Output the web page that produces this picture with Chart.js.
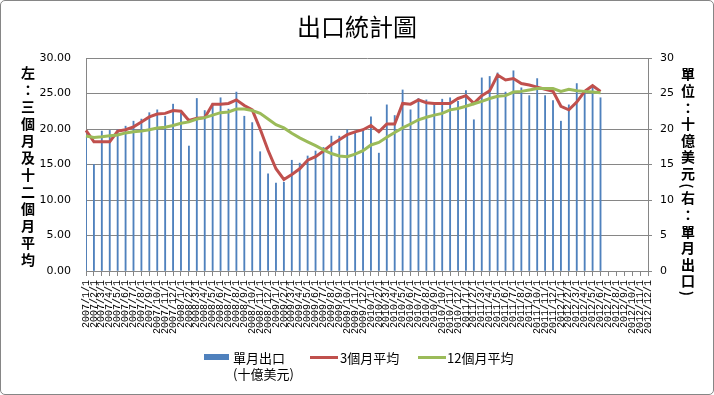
<!DOCTYPE html>
<html lang="zh-Hant">
<head>
<meta charset="utf-8">
<script src="https://cdn.jsdelivr.net/npm/chart.js@4/dist/chart.umd.min.js"></script>
<style>
  html, body { margin: 0; padding: 0; background: #fff; }
  #wrap { position: relative; width: 714px; height: 395px; overflow: hidden; font-family: "Noto Sans CJK TC", sans-serif; }
  #c { position: absolute; left: 0; top: 0; }
  #frame { position: absolute; left: 0; top: 0; width: 714px; height: 395px; box-sizing: border-box; border: 1px solid #868686; border-radius: 5px; pointer-events: none; }
  .vlab { position: absolute; writing-mode: vertical-rl; text-orientation: mixed; font-size: 14px; font-weight: bold; letter-spacing: 3px; color: #000; line-height: 14px; }
  .leg { position: absolute; font-size: 13px; line-height: 15.5px; color: #000; white-space: nowrap; }
  .sw { position: absolute; }
</style>
</head>
<body>
<div id="wrap">
  <canvas id="c" width="714" height="395"></canvas>
  <div class="vlab" style="left:21px; top:66px;">左：三個月及十二個月平均</div>
  <div class="vlab" style="left:681px; top:67px; letter-spacing:2.6px;">單位：十億美元(右：單月出口)</div>
  <div class="sw" style="left:204px; top:354px; width:25px; height:6px; background:#4F81BD;"></div>
  <div class="leg" style="left:233px; top:350px;">單月出口<br>(十億美元)</div>
  <div class="sw" style="left:310px; top:356px; width:28px; height:3px; background:#C0504D;"></div>
  <div class="leg" style="left:340px; top:350px;">3個月平均</div>
  <div class="sw" style="left:418px; top:356px; width:28px; height:3px; background:#9BBB59;"></div>
  <div class="leg" style="left:447px; top:350px;">12個月平均</div>
  <div id="frame"></div>
</div>
<script>
const categories = [
  "2007/1/1","2007/2/1","2007/3/1","2007/4/1","2007/5/1","2007/6/1","2007/7/1","2007/8/1","2007/9/1","2007/10/1","2007/11/1","2007/12/1",
  "2008/1/1","2008/2/1","2008/3/1","2008/4/1","2008/5/1","2008/6/1","2008/7/1","2008/8/1","2008/9/1","2008/10/1","2008/11/1","2008/12/1",
  "2009/1/1","2009/2/1","2009/3/1","2009/4/1","2009/5/1","2009/6/1","2009/7/1","2009/8/1","2009/9/1","2009/10/1","2009/11/1","2009/12/1",
  "2010/1/1","2010/2/1","2010/3/1","2010/4/1","2010/5/1","2010/6/1","2010/7/1","2010/8/1","2010/9/1","2010/10/1","2010/11/1","2010/12/1",
  "2011/1/1","2011/2/1","2011/3/1","2011/4/1","2011/5/1","2011/6/1","2011/7/1","2011/8/1","2011/9/1","2011/10/1","2011/11/1","2011/12/1",
  "2012/1/1","2012/2/1","2012/3/1","2012/4/1","2012/5/1","2012/6/1","2012/7/1","2012/8/1","2012/9/1","2012/10/1","2012/11/1","2012/12/1"
];

// 單月出口 (十億美元) — right axis
const monthlyExports = [
  19.4, 15.0, 19.7, 19.8, 19.9, 20.4, 21.1, 21.4, 22.3, 22.7, 21.8, 23.5,
  22.2, 17.6, 24.3, 22.6, 23.6, 24.4, 22.8, 25.2, 21.8, 20.9, 16.8, 13.7,
  12.4, 12.5, 15.6, 15.2, 16.2, 16.9, 17.4, 19.0, 19.0, 19.9, 19.7, 19.9,
  21.7, 16.6, 23.4, 21.9, 25.5, 22.7, 24.3, 24.1, 23.7, 24.2, 24.4, 23.9,
  25.4, 21.3, 27.2, 27.4, 27.9, 25.2, 28.2, 25.8, 24.7, 27.1, 24.7, 24.0,
  21.1, 23.4, 26.4, 25.2, 26.1, 24.4
];

// 3個月平均 — left axis
const avg3 = [
  19.8, 18.2, 18.2, 18.2, 19.7, 19.9, 20.3, 21.0, 21.7, 22.1, 22.2, 22.6,
  22.5, 21.2, 21.5, 21.6, 23.5, 23.5, 23.6, 24.1, 23.3, 22.7, 20.0, 17.0,
  14.4, 12.9, 13.6, 14.4, 15.6, 16.1, 16.9, 17.8, 18.5, 19.2, 19.6, 19.9,
  20.5, 19.6, 20.7, 20.7, 23.6, 23.5, 24.1, 23.7, 23.6, 23.6, 23.6, 24.3,
  24.7, 23.6, 24.7, 25.4, 27.6, 26.9, 27.1, 26.4, 26.2, 25.9, 25.6, 25.3,
  23.2, 22.7, 23.8, 25.3, 26.1, 25.3
];

// 12個月平均 — left axis
const avg12 = [
  19.0, 18.8, 18.9, 19.05, 19.15, 19.45, 19.6, 19.7, 19.9, 20.15, 20.25, 20.5,
  20.8, 21.0, 21.4, 21.6, 21.95, 22.3, 22.4, 22.8, 22.8, 22.6, 22.2, 21.4,
  20.6, 20.15, 19.4, 18.75, 18.2, 17.65, 17.05, 16.55, 16.2, 16.1, 16.45, 16.95,
  17.75, 18.1, 18.85, 19.5, 20.15, 20.7, 21.3, 21.65, 21.95, 22.2, 22.7, 22.9,
  23.2, 23.55, 23.9, 24.3, 24.6, 24.7, 25.2, 25.3, 25.5, 25.7, 25.7, 25.7,
  25.3, 25.6, 25.4, 25.3, 25.2, 25.1
];

const leftTicks = [0, 5, 10, 15, 20, 25, 30];
const rightTicks = [0, 5, 10, 15, 20, 25, 30];

const GRAY = '#868686';

new Chart(document.getElementById('c'), {
  type: 'bar',
  data: {
    labels: categories,
    datasets: [
      {
        type: 'line', label: '12個月平均', data: avg12, yAxisID: 'y',
        borderColor: '#9BBB59', backgroundColor: '#9BBB59', borderWidth: 3,
        pointRadius: 0, tension: 0, order: 1
      },
      {
        type: 'line', label: '3個月平均', data: avg3, yAxisID: 'y',
        borderColor: '#C0504D', backgroundColor: '#C0504D', borderWidth: 3,
        pointRadius: 0, tension: 0, order: 2
      },
      {
        type: 'bar', label: '單月出口(十億美元)', data: monthlyExports, yAxisID: 'y1',
        backgroundColor: '#4F81BD', borderWidth: 0, barThickness: 1.2, order: 3
      }
    ]
  },
  options: {
    responsive: false,
    animation: false,
    devicePixelRatio: 1,
    layout: { padding: { left: 0, right: 0, top: 0, bottom: 0 } },
    plugins: {
      legend: { display: false },
      tooltip: { enabled: false },
      title: {
        display: true,
        text: '出口統計圖',
        color: '#000',
        font: { family: '"Noto Sans CJK TC", sans-serif', size: 24, weight: 'normal', lineHeight: 1.2 },
        padding: { top: 12.6, bottom: 16.6 }
      }
    },
    scales: {
      x: {
        offset: false,
        grid: { display: true, offset: false, drawOnChartArea: false, drawTicks: true, tickLength: 5, tickColor: GRAY, color: GRAY },
        border: { display: true, color: GRAY, width: 1 },
        ticks: {
          autoSkip: false, maxRotation: 90, minRotation: 90, padding: 4, color: '#000',
          font: { family: '"Liberation Mono", monospace', size: 10 }
        },
        afterFit(scale) { scale.height = 124; }
      },
      y: {
        position: 'left', min: 0, max: 30,
        afterBuildTicks(scale) { scale.ticks = leftTicks.map(v => ({ value: v })); },
        grid: { color: GRAY, drawTicks: false, lineWidth: 1 },
        border: { display: true, color: GRAY, width: 1 },
        ticks: {
          padding: 15, color: '#000',
          font: { family: '"DejaVu Sans", sans-serif', size: 11 },
          callback: v => Number(v).toFixed(2)
        },
        afterFit(scale) { scale.width = 86; }
      },
      y1: {
        position: 'right', min: 0, max: 30,
        afterBuildTicks(scale) { scale.ticks = rightTicks.map(v => ({ value: v })); },
        grid: { drawOnChartArea: false, drawTicks: true, tickLength: 4, tickColor: GRAY, color: GRAY },
        border: { display: true, color: GRAY, width: 1 },
        ticks: {
          padding: 8, color: '#000',
          font: { family: '"DejaVu Sans", sans-serif', size: 11 },
          callback: v => String(v)
        },
        afterFit(scale) { scale.width = 66; }
      }
    }
  }
});
</script>
</body>
</html>
